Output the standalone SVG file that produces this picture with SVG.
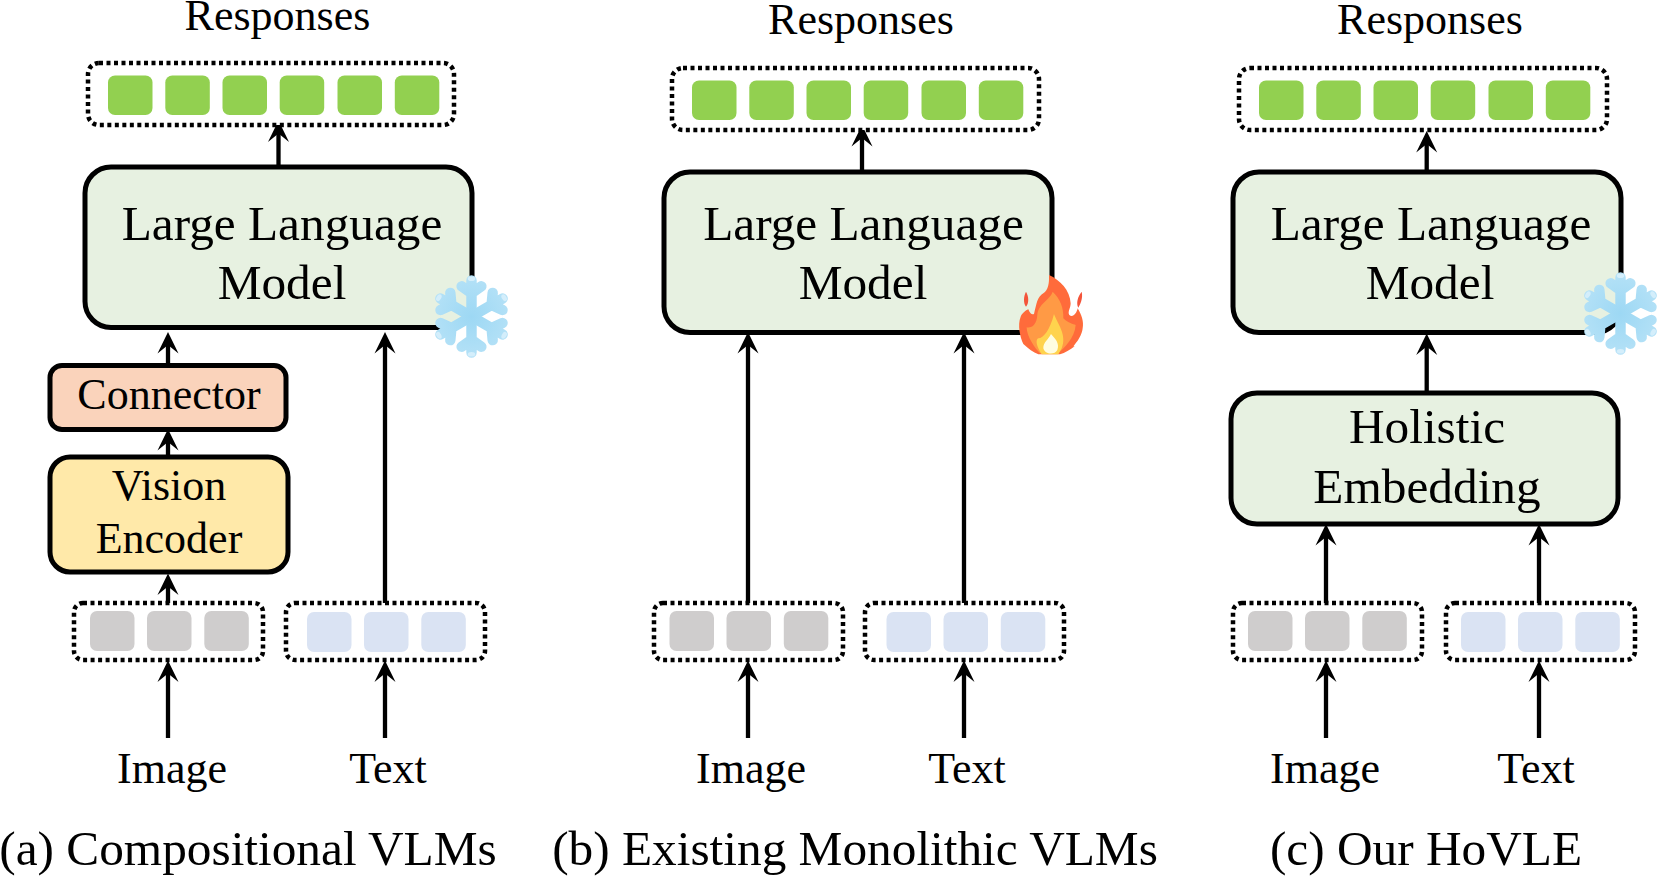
<svg xmlns="http://www.w3.org/2000/svg" xmlns:xlink="http://www.w3.org/1999/xlink" width="1661" height="878" viewBox="0 0 1661 878">
<style>
text{font-family:"Liberation Serif","Times New Roman",serif;fill:#000;text-anchor:middle}
.t43{font-size:44px}.t49{font-size:49.300px}
.box{stroke:#000;stroke-width:5}
.llm{fill:#e7f1e1}.conn{fill:#fad3bb}.vis{fill:#ffe9a9}
.dot{fill:#fff;stroke:#000;stroke-width:4.500;stroke-dasharray:4 3.500}
.g{fill:#92d050}.k{fill:#cfcdcd}.b{fill:#dae3f3}
#connectors line{stroke:#000;stroke-width:4.300;marker-end:url(#arrow)}
</style>
<defs>
<marker id="arrow" markerUnits="userSpaceOnUse" markerWidth="22" markerHeight="22" viewBox="0 0 22 22" refX="14" refY="11" orient="auto">
<path d="M22 11 L0.500 0.500 L9 11 L0.500 21.500 Z" fill="#000"/>
</marker>
<radialGradient id="ice" gradientUnits="userSpaceOnUse" cx="0" cy="0" r="38"><stop offset="0" stop-color="#9dd8f4"/><stop offset="1" stop-color="#b6e2f7"/></radialGradient>
<g id="arm">
<path d="M0 0V-31M0 -20L-8.500 -26M0 -20L8.500 -26" fill="none" stroke="url(#ice)" stroke-width="9" stroke-linecap="round"/>
<ellipse cx="0" cy="-32.500" rx="3.200" ry="2" fill="#d4eefb"/>
</g>
<g id="snow">
<use xlink:href="#arm"/><use xlink:href="#arm" transform="rotate(60)"/><use xlink:href="#arm" transform="rotate(120)"/><use xlink:href="#arm" transform="rotate(180)"/><use xlink:href="#arm" transform="rotate(240)"/><use xlink:href="#arm" transform="rotate(300)"/>
</g>
<g id="greens">
<rect class="g" x="0" y="0" width="44.500" height="39.500" rx="7"/><rect class="g" x="57.300" y="0" width="44.500" height="39.500" rx="7"/><rect class="g" x="114.500" y="0" width="44.500" height="39.500" rx="7"/><rect class="g" x="171.700" y="0" width="44.500" height="39.500" rx="7"/><rect class="g" x="229.500" y="0" width="44.500" height="39.500" rx="7"/><rect class="g" x="286.800" y="0" width="44.500" height="39.500" rx="7"/>
</g>
<g id="grays">
<rect class="k" x="0" y="0" width="44.500" height="40" rx="7"/><rect class="k" x="57" y="0" width="44.500" height="40" rx="7"/><rect class="k" x="114.300" y="0" width="44.500" height="40" rx="7"/>
</g>
<g id="blues">
<rect class="b" x="0" y="0" width="44.500" height="40" rx="7"/><rect class="b" x="57" y="0" width="44.500" height="40" rx="7"/><rect class="b" x="114.300" y="0" width="44.500" height="40" rx="7"/>
</g>
</defs>
<rect width="1661" height="878" fill="#fff"/>
<g id="connectors">
<line x1="278.500" y1="167" x2="278.500" y2="128.500"/>
<line x1="168" y1="365" x2="168" y2="340"/>
<line x1="168" y1="457" x2="168" y2="437"/>
<line x1="168" y1="603" x2="168" y2="581.500"/>
<line x1="168" y1="738" x2="168" y2="668.500"/>
<line x1="385" y1="605" x2="385" y2="340"/>
<line x1="385" y1="738" x2="385" y2="668.500"/>
<line x1="862" y1="172" x2="862" y2="133"/>
<line x1="748" y1="605" x2="748" y2="340"/>
<line x1="964" y1="605" x2="964" y2="340"/>
<line x1="748" y1="738" x2="748" y2="668.500"/>
<line x1="964" y1="738" x2="964" y2="668.500"/>
<line x1="1426.700" y1="172" x2="1426.700" y2="139"/>
<line x1="1426.700" y1="394" x2="1426.700" y2="341.500"/>
<line x1="1326" y1="605" x2="1326" y2="532"/>
<line x1="1539" y1="605" x2="1539" y2="532"/>
<line x1="1326" y1="738" x2="1326" y2="668.500"/>
<line x1="1539" y1="738" x2="1539" y2="668.500"/>
</g>
<g id="a-responses"><text class="t43" x="277.500" y="30">Responses</text></g>
<g id="a-output"><rect class="dot" x="88" y="63" width="366" height="62" rx="11"/><use xlink:href="#greens" x="108" y="75.500"/></g>
<g id="a-llm"><rect class="box llm" x="85" y="167" width="387" height="160.500" rx="26"/><text class="t49" x="282" y="239.500">Large Language</text><text class="t49" x="282" y="299">Model</text></g>
<g id="a-connector"><rect class="box conn" x="50" y="365.500" width="236" height="64" rx="12"/><text class="t43" x="169" y="409">Connector</text></g>
<g id="a-vision"><rect class="box vis" x="50" y="457" width="238" height="115" rx="20"/><text class="t43" x="169" y="500">Vision</text><text class="t43" x="169" y="553">Encoder</text></g>
<g id="a-image-tokens"><rect class="dot" x="74" y="603" width="189" height="57" rx="9"/><use xlink:href="#grays" x="90" y="611"/></g>
<g id="a-text-tokens"><rect class="dot" x="286" y="603" width="199" height="57" rx="9"/><use xlink:href="#blues" x="307" y="612"/></g>
<g id="a-image"><text class="t43" x="172" y="783">Image</text></g>
<g id="a-text"><text class="t43" x="388" y="783">Text</text></g>
<g id="a-caption"><text class="t49" x="248" y="865">(a) Compositional VLMs</text></g>
<g id="a-snow"><use xlink:href="#snow" transform="translate(471.500,316.500) scale(1.160)"/></g>

<g id="b-responses"><text class="t43" x="861" y="34">Responses</text></g>
<g id="b-output"><rect class="dot" x="672" y="68" width="367" height="62" rx="11"/><use xlink:href="#greens" x="692" y="80.500"/></g>
<g id="b-llm"><rect class="box llm" x="664" y="172" width="388" height="160.500" rx="26"/><text class="t49" x="863.500" y="239.500">Large Language</text><text class="t49" x="863" y="299">Model</text></g>
<g id="b-image-tokens"><rect class="dot" x="654" y="603" width="189" height="57" rx="9"/><use xlink:href="#grays" x="669.500" y="611"/></g>
<g id="b-text-tokens"><rect class="dot" x="865" y="603" width="199" height="57" rx="9"/><use xlink:href="#blues" x="886.500" y="612"/></g>
<g id="b-image"><text class="t43" x="751" y="783">Image</text></g>
<g id="b-text"><text class="t43" x="967" y="783">Text</text></g>
<g id="b-caption"><text class="t49" x="855" y="865">(b) Existing Monolithic VLMs</text></g>
<g id="b-flame" transform="translate(980,240) scale(0.3333)">
<path d="M138 155C147 170 147 190 138 200C130 190 130 170 138 155ZM305 155C310 175 300 195 295 203C288 190 293 170 305 155Z" fill="#f4543a"/>
<path d="M207 105C240 120 270 150 272 190C272 205 262 215 268 225C278 235 290 220 293 205C305 225 312 245 308 265C304 300 270 325 285 318C270 330 255 338 240 343L175 343C160 338 145 325 130 312C120 290 112 255 122 230C125 222 135 212 145 208C150 220 155 225 162 222C170 190 172 170 190 160C205 150 208 130 207 105Z" fill="#ff6b3b"/>
<path d="M218 155C240 175 252 205 250 235C265 250 280 252 287 255C285 295 250 325 235 340L180 340C165 325 140 290 140 262C155 265 170 255 172 225C175 190 210 180 218 155Z" fill="#ff9a45"/>
<path d="M222 222C232 250 262 285 245 325L235 343L185 343C170 320 165 300 175 295C190 295 210 270 222 222Z" fill="#ffd34d"/>
<path d="M213 282C225 295 240 310 232 330C225 345 195 345 190 325C190 305 205 300 213 282Z" fill="#fffde0"/>
</g>

<g id="c-responses"><text class="t43" x="1430" y="34">Responses</text></g>
<g id="c-output"><rect class="dot" x="1239" y="68" width="368" height="62" rx="11"/><use xlink:href="#greens" x="1259" y="80.500"/></g>
<g id="c-llm"><rect class="box llm" x="1233" y="172" width="388" height="160.500" rx="26"/><text class="t49" x="1431" y="239.500">Large Language</text><text class="t49" x="1430" y="299">Model</text></g>
<g id="c-holistic"><rect class="box llm" x="1231" y="393" width="387" height="131" rx="26"/><text class="t49" x="1427" y="443">Holistic</text><text class="t49" x="1427" y="503">Embedding</text></g>
<g id="c-image-tokens"><rect class="dot" x="1233" y="603" width="189" height="57" rx="9"/><use xlink:href="#grays" x="1248" y="611"/></g>
<g id="c-text-tokens"><rect class="dot" x="1446" y="603" width="189" height="57" rx="9"/><use xlink:href="#blues" x="1461" y="612"/></g>
<g id="c-image"><text class="t43" x="1325" y="783">Image</text></g>
<g id="c-text"><text class="t43" x="1536" y="783">Text</text></g>
<g id="c-caption"><text class="t49" x="1426" y="865">(c) Our HoVLE</text></g>
<g id="c-snow"><use xlink:href="#snow" transform="translate(1620.500,313.500) scale(1.160)"/></g>
</svg>
